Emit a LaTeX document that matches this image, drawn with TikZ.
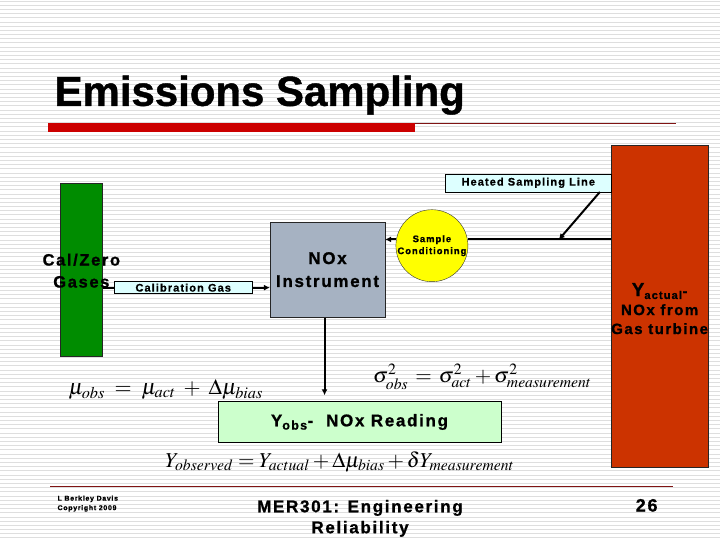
\documentclass[tikz,border=0pt]{standalone}
\usepackage{mathptmx}
\usepackage[no-math]{fontspec}
\setmainfont{Liberation Sans}
\newfontfamily\wide[LetterSpace=10, BoldFeatures={FakeBold=1}]{Liberation Sans}
\newfontfamily\heavy[BoldFeatures={FakeBold=1}]{Liberation Sans}
\usetikzlibrary{arrows.meta, positioning, calc}

\definecolor{gasgreen}{RGB}{0,140,0}
\definecolor{noxgray}{RGB}{166,178,194}
\definecolor{turbinered}{RGB}{204,51,0}
\definecolor{condyellow}{RGB}{255,255,0}
\definecolor{tagcyan}{RGB}{221,255,255}
\definecolor{readgreen}{RGB}{204,255,204}
\definecolor{rulered}{RGB}{204,0,0}
\definecolor{rulebrown}{RGB}{128,20,20}

\begin{document}
\begin{tikzpicture}[
    x=1pt, y=-1pt,
    every node/.style={font=\wide\bfseries},
    stripe/.style={draw=black!13, line width=0.9pt},
    block/.style={draw=black!85, rectangle, inner sep=0pt},
    tag/.style={draw=black, rectangle, fill=tagcyan, inner sep=0pt, font=\wide\bfseries\fontsize{11}{11}\selectfont},
    line/.style={line width=2pt},
    arrow/.style={-{Latex[length=6pt,width=6pt]}, line width=2pt},
    eqn/.style={font=\fontsize{21.2}{22}\selectfont, inner sep=0pt}
]

% Background
\fill[white] (0,0) rectangle (720,540);
\foreach \i in {0,...,128} \draw[stripe] (0,1+4.2*\i) -- (720,1+4.2*\i);
\useasboundingbox (0,0) rectangle (720,540);

% Title
\node[anchor=base west, inner sep=0pt, font=\heavy\bfseries\fontsize{42}{42}\selectfont] (title) at (54,106) {Emissions Sampling};
\fill[rulered] (48,123) rectangle (415,132);
\draw[rulebrown, line width=0.8pt] (415,123.5) -- (676,123.5);

% Nodes
\node[block, fill=gasgreen, minimum width=42pt, minimum height=174pt] (gas) at (81,270) {};
\node[align=center, font=\wide\bfseries\fontsize{16.5}{22}\selectfont] (gaslabel) at (81,271) {Cal/Zero\\Gases};
\node[block, fill=noxgray, minimum width=115pt, minimum height=96pt, align=center,
      font=\wide\bfseries\fontsize{17}{23}\selectfont] (nox) at (327.5,270) {NOx\\Instrument};
\node[circle, draw=black!80, fill=condyellow, minimum size=72pt, inner sep=0pt, align=center,
      font=\wide\bfseries\fontsize{9.5}{12}\selectfont] (cond) at (432,246) {Sample\\Conditioning};
\node[block, fill=turbinered, minimum width=97pt, minimum height=323pt] (turbine) at (660.5,306.5) {};
\node[align=center, font=\wide\bfseries\fontsize{15}{19}\selectfont] (turblabel) at (660,309)
     {{\fontsize{19}{19}\selectfont Y}\textsubscript{actual}-\\NOx from\\Gas turbine};
\node[block, draw=black, fill=readgreen, minimum width=283pt, minimum height=41pt,
      font=\wide\bfseries\fontsize{17}{17}\selectfont] (reading) at (359.5,422.5) {Y\textsubscript{obs}-\ \ NOx Reading};
\node[tag, minimum width=138pt, minimum height=12pt] (calib) at (183,288) {Calibration Gas};
\node[tag, minimum width=167pt, minimum height=18pt] (heated) at (528.5,183) {Heated Sampling Line};
\coordinate (tap) at (559,240);

% Arrows
\draw[line] (gas.east |- calib) -- (calib.west);
\draw[arrow] (calib.east) -- (nox.west |- calib);
\draw[line] (turbine.west |- cond.10) -- (cond.10);
\draw[arrow] (cond.170) -- (nox.east |- cond.170);
\draw[arrow] ([xshift=-12pt]heated.south east) -- (tap);
\draw[arrow, shorten >=6pt] ([xshift=-3pt]nox.south) -- ([xshift=-3pt]nox.south |- reading.north);

% Equations
\node[eqn, anchor=base west, font=\fontsize{22}{22}\selectfont] (mueq) at (68,395) {$\mu_{obs} \;=\; \mu_{act} \;+\; \Delta\mu_{bias}$};
\node[eqn, anchor=base west] (sigeq) at (373,383) {$\sigma^{2}_{obs} \,=\, \sigma^{2}_{act} + \sigma^{2}_{measurement}$};
\node[eqn, anchor=base west] (yeq) at (165,468) {$Y_{observed} = Y_{actual} + \Delta\mu_{bias} + \delta Y_{measurement}$};

% Footer
\draw[rulebrown, line width=0.8pt] (50,487) -- (673,487);
\node[anchor=north west, align=left, inner sep=0pt, font=\wide\bfseries\fontsize{7}{9.5}\selectfont] (author) at (57,496) {L Berkley Davis\\Copyright 2009};
\node[align=center, font=\wide\bfseries\fontsize{17}{21}\selectfont] (course) at (360,519) {MER301: Engineering\\Reliability};
\node[font=\wide\bfseries\fontsize{18}{18}\selectfont] (page) at (647,506) {26};

\end{tikzpicture}
\end{document}
